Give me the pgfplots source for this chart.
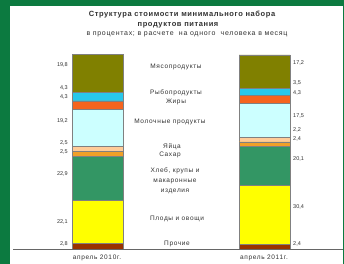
\documentclass[border=0pt]{standalone}
\usepackage{fontspec}
\setmainfont{Liberation Sans}
\usepackage{pgfplots}
\pgfplotsset{compat=1.18}
\definecolor{frameG}{RGB}{12,122,64}
\definecolor{cBrown}{RGB}{153,51,0}
\definecolor{cYellow}{RGB}{255,255,0}
\definecolor{cGreen}{RGB}{51,150,100}
\definecolor{cSugar}{RGB}{240,160,40}
\definecolor{cEgg}{RGB}{255,204,153}
\definecolor{cMilk}{RGB}{204,255,255}
\definecolor{cFat}{RGB}{245,100,30}
\definecolor{cFish}{RGB}{40,200,235}
\definecolor{cMeat}{RGB}{128,128,0}
\definecolor{txt}{RGB}{50,50,50}
\begin{document}
\begin{tikzpicture}[x=1pt,y=1pt]
\useasboundingbox (0,0) rectangle (344,264);
\fill[frameG] (0,0) rectangle (344,264);
\fill[white] (10,0) rectangle (343,258);
\begin{axis}[at={(0,0)},anchor=south west,width=344pt,height=264pt,scale only axis,
  xmin=0,xmax=344,ymin=-7.732,ymax=128.35,hide axis,clip=false,
  ybar stacked,bar width=51,
  every axis plot/.append style={draw=black!50,line width=0.4pt}]
\addplot[fill=cBrown] coordinates {(97.5,2.8) (264.5,2.4)};
\addplot[fill=cYellow] coordinates {(97.5,22.1) (264.5,30.4)};
\addplot[fill=cGreen] coordinates {(97.5,22.9) (264.5,20.1)};
\addplot[fill=cSugar] coordinates {(97.5,2.5) (264.5,2.4)};
\addplot[fill=cEgg] coordinates {(97.5,2.5) (264.5,2.2)};
\addplot[fill=cMilk] coordinates {(97.5,19.2) (264.5,17.5)};
\addplot[fill=cFat] coordinates {(97.5,4.3) (264.5,4.3)};
\addplot[fill=cFish] coordinates {(97.5,4.3) (264.5,3.5)};
\addplot[fill=cMeat] coordinates {(97.5,19.8) (264.5,17.2)};
\end{axis}
\begin{scope}[shift={(0,264)},y=-1pt,every node/.style={text=txt,inner sep=0pt}]
\draw[black!60,line width=0.8pt] (13,249.5) -- (343,249.5);
\node[font=\bfseries\fontsize{7.5}{8}\selectfont\addfontfeature{LetterSpace=8}] at (182,15) {Структура стоимости минимального набора};
\node[font=\bfseries\fontsize{7.5}{8}\selectfont\addfontfeature{LetterSpace=8}] at (178,25) {продуктов питания};
\node[font=\fontsize{7}{8}\selectfont\addfontfeature{LetterSpace=10}] at (187,34) {в процентах;\ в расчете \ на одного \ человека в месяц};
\begin{scope}[every node/.append style={font=\fontsize{6.5}{7}\selectfont\addfontfeature{LetterSpace=10}}]
\node at (176,67) {Мясопродукты};
\node at (176,93) {Рыбопродукты};
\node at (176,102) {Жиры};
\node at (170,122) {Молочные продукты};
\node at (172,147) {Яйца};
\node at (170,155) {Сахар};
\node at (175,171) {Хлеб, крупы и};
\node at (175,181) {макаронные};
\node at (175,191) {изделия};
\node at (177,219) {Плоды и овощи};
\node at (177,244) {Прочие};
\node at (97,258) {апрель 2010г.};
\node at (264,258) {апрель 2011г.};
\end{scope}
\begin{scope}[every node/.append style={font=\fontsize{5.5}{6}\selectfont}]
\node[anchor=east] at (68,65) {19,8};
\node[anchor=east] at (68,88) {4,3};
\node[anchor=east] at (68,97) {4,3};
\node[anchor=east] at (68,121) {19,2};
\node[anchor=east] at (68,143) {2,5};
\node[anchor=east] at (68,152) {2,5};
\node[anchor=east] at (68,174) {22,9};
\node[anchor=east] at (68,222) {22,1};
\node[anchor=east] at (68,244) {2,8};
\node[anchor=west] at (293,63) {17,2};
\node[anchor=west] at (293,83) {3,5};
\node[anchor=west] at (293,93) {4,3};
\node[anchor=west] at (293,116) {17,5};
\node[anchor=west] at (293,130) {2,2};
\node[anchor=west] at (293,139) {2,4};
\node[anchor=west] at (293,159) {20,1};
\node[anchor=west] at (293,207) {30,4};
\node[anchor=west] at (293,244) {2,4};
\end{scope}
\end{scope}
\end{tikzpicture}
\end{document}
